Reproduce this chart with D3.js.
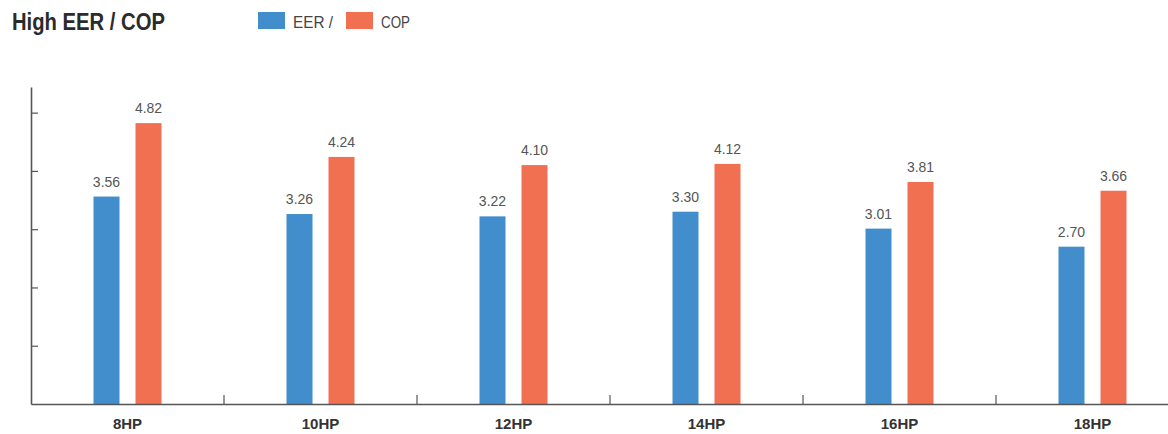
<!DOCTYPE html>
<html><head><meta charset="utf-8">
<script src="https://cdn.jsdelivr.net/npm/d3@7/dist/d3.min.js"></script>
<style>body{margin:0;background:#fff;overflow:hidden}</style>
</head><body><svg id="c" width="1168" height="434"></svg>
<script>
const categories = ["8HP","10HP","12HP","14HP","16HP","18HP"];
const eerValues = [3.56,3.26,3.22,3.30,3.01,2.70];
const copValues = [4.82,4.24,4.10,4.12,3.81,3.66];
const seriesNames = ["EER","COP"];
const legendLabels = ["EER /","COP"];
const yTicks = [1,2,3,4,5];
const colors = {EER:"#428ecc", COP:"#f27052"};

const svg = d3.select("#c");
const x = d3.scaleBand().domain(categories).range([31,1189]).padding(0);
const inner = d3.scaleBand().domain(seriesNames).range([-34,34]).paddingInner(0.381);
const y = d3.scaleLinear().domain([0,5.44]).range([404,87]);

// title
svg.append("text").attr("x",12).attr("y",30)
  .attr("font-family","'Liberation Sans',Arial,sans-serif")
  .attr("font-weight","bold").attr("font-size",23).attr("fill","#2b2b2b")
  .attr("textLength",153).attr("lengthAdjust","spacingAndGlyphs")
  .text("High EER / COP");

// legend
const legX = [258, 346];
const legLen = [40, 29];
seriesNames.forEach((s,i)=>{
  svg.append("rect").attr("x",legX[i]).attr("y",12).attr("width",27).attr("height",17).attr("fill",colors[s]);
  svg.append("text").attr("x",legX[i]+35).attr("y",28)
    .attr("font-family","'Liberation Sans',Arial,sans-serif")
    .attr("font-size",17).attr("fill","#444")
    .attr("textLength",legLen[i]).attr("lengthAdjust","spacingAndGlyphs")
    .text(legendLabels[i]);
});

// bars
const data = categories.map((c,i)=>({cat:c, EER:eerValues[i], COP:copValues[i]}));
const g = svg.append("g");
data.forEach(d=>{
  seriesNames.forEach(s=>{
    const cx = x(d.cat)+x.bandwidth()/2 + inner(s);
    g.append("rect").attr("x",cx).attr("y",y(d[s])).attr("width",inner.bandwidth())
      .attr("height",y(0)-y(d[s])).attr("fill",colors[s]);
    g.append("text").attr("x",cx+inner.bandwidth()/2).attr("y",y(d[s])-10)
      .attr("text-anchor","middle").attr("font-family","'Liberation Sans',Arial,sans-serif")
      .attr("font-size",14).attr("fill","#555").text(d[s].toFixed(2));
  });
});

// y axis
const yAxis = d3.axisRight(y).tickValues(yTicks).tickSize(7).tickSizeOuter(0).tickFormat("");
const yg = svg.append("g").attr("transform","translate(31,0)").call(yAxis);
yg.select(".domain").attr("stroke","#555").attr("stroke-width",1.6);
yg.selectAll(".tick line").attr("stroke","#555").attr("stroke-width",1.2);

// x axis
const xAxis = d3.axisBottom(x).tickSize(0).tickSizeOuter(0).tickPadding(14);
const xg = svg.append("g").attr("transform","translate(0,404)").call(xAxis);
xg.select(".domain").attr("stroke","#555").attr("stroke-width",1.6);
xg.selectAll(".tick text").attr("font-family","'Liberation Sans',Arial,sans-serif")
  .attr("font-weight","bold").attr("font-size",15).attr("fill","#333");
// boundary ticks
xg.selectAll(".bt").data(categories.slice(1)).enter().append("line")
  .attr("x1",d=>x(d)).attr("x2",d=>x(d)).attr("y1",0).attr("y2",-9)
  .attr("stroke","#555").attr("stroke-width",1.2);
</script></body></html>
